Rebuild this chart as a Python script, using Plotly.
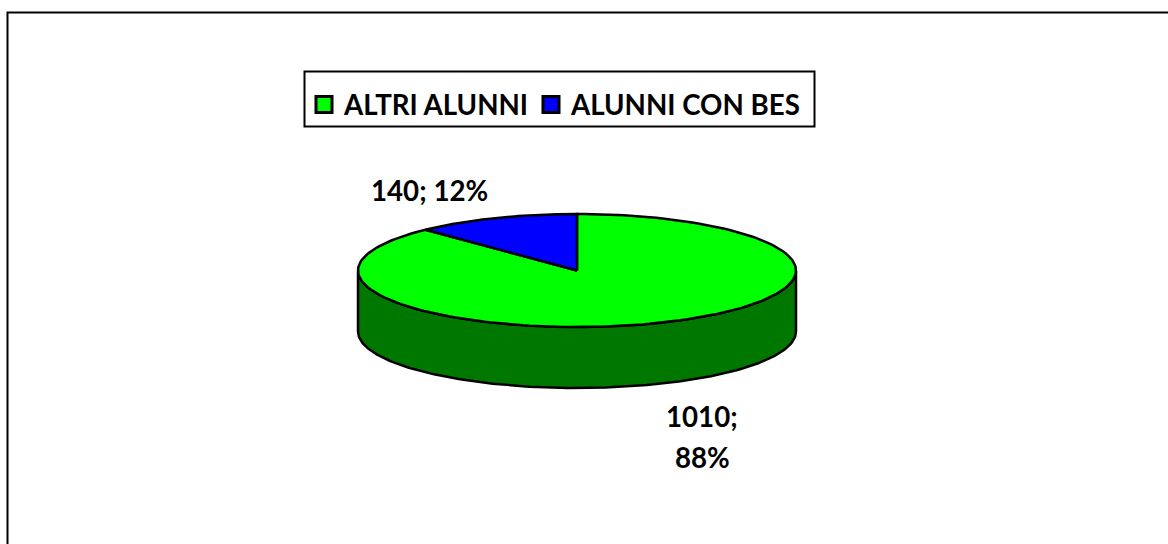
import numpy as np
import plotly.graph_objects as go

categories = ["ALTRI ALUNNI", "ALUNNI CON BES"]
values = [1010, 140]
top_colors = ["#00FF00", "#0000FF"]
side_color = "#007800"

W, H = 1168, 544
CX, CY, RX = 577, 270.5, 219      # pie centre and radius in pixels
TILT = 56.5 / 219                 # ellipse flattening
DEPTH = 61 / 219                  # thickness of the disc in radius units
FONT = "Lato"
FONT_SIZE = 27.7

total = sum(values)
fracs = [v / total for v in values]


def arc(t0, t1, n=180):
    t = np.linspace(t0, t1, n)
    return np.sin(t), np.cos(t) * TILT


fig = go.Figure()

# side wall: front half of the disc
xa, ya = arc(np.pi / 2, 3 * np.pi / 2)
fig.add_trace(go.Scatter(
    x=np.r_[xa, xa[::-1], xa[0]], y=np.r_[ya, ya[::-1] - DEPTH, ya[0]],
    mode="lines", fill="toself", fillcolor=side_color,
    line=dict(color="black", width=2.5), showlegend=False, hoverinfo="skip"))

# top slices, clockwise from twelve o'clock
start = 0.0
for name, f, c in zip(categories, fracs, top_colors):
    end = start + f * 2 * np.pi
    xa, ya = arc(start, end)
    fig.add_trace(go.Scatter(
        x=np.r_[0, xa, 0], y=np.r_[0, ya, 0],
        mode="lines", fill="toself", fillcolor=c,
        line=dict(color="black", width=2.5, shape="linear"),
        showlegend=False, name=name, hoverinfo="name"))
    start = end

# legend keys, one legend block per entry so each key sits at its own place
for name, c, lg in zip(categories, top_colors, ["legend", "legend2"]):
    fig.add_trace(go.Scatter(
        x=[None], y=[None], mode="markers", name=name, legend=lg,
        marker=dict(symbol="square", size=16, color=c,
                    line=dict(color="black", width=3))))


def px_x(p):
    return (p - CX) / RX


def px_y(p):
    return (CY - p) / RX


def label(px, py, text):
    fig.add_annotation(x=px_x(px), y=px_y(py), text=text, showarrow=False,
                       xanchor="center", yanchor="middle",
                       font=dict(family=FONT, size=FONT_SIZE, color="black", weight="bold"))


pcts = [round(f * 100) for f in fracs]
label(702, 416, f"{values[0]};")
label(702, 457, f"{pcts[0]}%")
label(429, 190, f"{values[1]}; {pcts[1]}%")

legend_common = dict(orientation="h", xanchor="left", y=1 - 80 / H, yanchor="top",
                     font=dict(family=FONT, size=FONT_SIZE, color="black", weight="bold"),
                     itemwidth=30, bgcolor="rgba(0,0,0,0)", borderwidth=0)

fig.update_layout(
    width=W, height=H, margin=dict(l=0, r=0, t=0, b=0),
    paper_bgcolor="white", plot_bgcolor="white",
    xaxis=dict(range=[px_x(0), px_x(W)], visible=False, fixedrange=True),
    yaxis=dict(range=[px_y(H), px_y(0)], visible=False, fixedrange=True),
    legend=dict(x=304 / W, **legend_common),
    legend2=dict(x=531 / W, **legend_common),
    shapes=[
        dict(type="rect", xref="paper", yref="paper",
             x0=7.5 / W, x1=1.01, y0=-0.01, y1=1 - 12.5 / H,
             line=dict(color="black", width=2), layer="below"),
        dict(type="rect", xref="paper", yref="paper",
             x0=304.5 / W, x1=814.5 / W, y0=1 - 126.5 / H, y1=1 - 71.5 / H,
             line=dict(color="black", width=2), fillcolor="white", layer="below"),
    ],
)

fig.write_html("out.html", config={"displayModeBar": False},
               post_script="document.body.style.margin='0';document.body.style.overflow='hidden';")
